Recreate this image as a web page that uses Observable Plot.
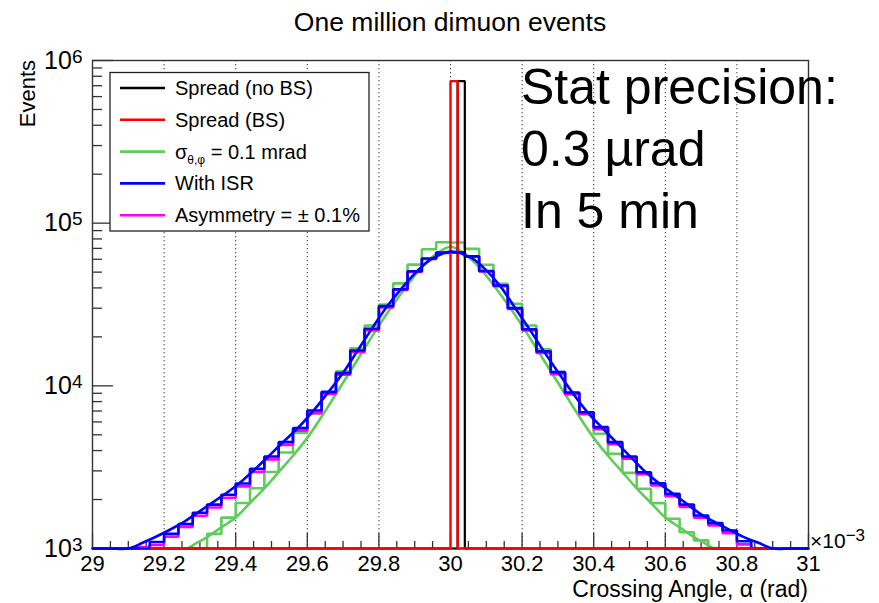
<!DOCTYPE html>
<html>
<head>
<meta charset="utf-8">
<script src="https://cdn.jsdelivr.net/npm/d3@7"></script>
<script src="https://cdn.jsdelivr.net/npm/@observablehq/plot@0.6"></script>
<style>
  html, body { margin: 0; padding: 0; background: #fff; }
  #chart { position: relative; width: 879px; height: 603px; }
</style>
</head>
<body>
<div id="chart"></div>
<script>
// Crossing-angle histograms: 50 bins of 0.04 mrad between 29 and 31 mrad
const binEdges = d3.range(51).map(i => +(29 + 0.04 * i).toFixed(2));

// With ISR (blue)
const withISR = [
  794, 851, 912, 977, 1096, 1230, 1413, 1660, 1862, 2138,
  2512, 3090, 3681, 4508, 5495, 7047, 9183, 11967, 16482, 22439,
  30903, 39264, 50582, 60674, 66069, 66222, 62517, 50816, 41400, 30061,
  22284, 16293, 12134, 9078, 6887, 5572, 4508, 3681, 2944, 2518,
  2168, 1862, 1596, 1432, 1291, 1109, 955, 891, 832, 776
];

// Asymmetry = ±0.1% (magenta)
const asymmetry = [
  780, 840, 905, 1020, 1050, 1180, 1355, 1590, 1785, 2050,
  2410, 2960, 3530, 4330, 5300, 6800, 8900, 11700, 16100, 21900,
  30300, 38800, 50100, 60200, 65700, 65900, 62100, 50400, 41000, 29700,
  21900, 15900, 11800, 8850, 6700, 5420, 4380, 3570, 2860, 2440,
  2100, 1800, 1545, 1385, 1240, 1060, 985, 880, 820, 765
];

// sigma(theta,phi) = 0.1 mrad (green)
const sigmaSmear = [
  200, 260, 330, 420, 530, 660, 800, 955, 1230, 1549,
  1905, 2344, 2951, 3890, 5129, 6761, 9120, 12303, 16982, 23442,
  31623, 42658, 55590, 69183, 76384, 76100, 69503, 55463, 42364, 31915,
  23496, 16788, 12134, 9016, 6730, 5070, 3819, 2917, 2328, 1901,
  1524, 1259, 1122, 933, 790, 640, 510, 400, 310, 240
];

// Beam-spread histograms (finer binning around 30 mrad)
const spreadEdges = [29.16, 30.00, 30.02, 30.04, 31.0];
const spreadNoBS = [0, 0, 747000, 0];
const spreadBS = [0, 747000, 0, 0];

// Fitted curves: sampled abscissae (mrad) and values
const sigmaFitX = [29.265, 29.28, 29.32, 29.36, 29.40, 29.44, 29.48, 29.52, 29.56, 29.60,
  29.64, 29.68, 29.72, 29.76, 29.80, 29.84, 29.88, 29.92, 29.96, 30.00,
  30.04, 30.08, 30.12, 30.16, 30.20, 30.24, 30.28, 30.32, 30.36, 30.40,
  30.44, 30.48, 30.52, 30.56, 30.60, 30.64, 30.68, 30.72, 30.735];
const sigmaFitY = [1000, 1047, 1175, 1349, 1549, 1905, 2344, 2951, 3715, 4786,
  6457, 8913, 12303, 16982, 23442, 31623, 41687, 53703, 64565, 71614,
  64565, 53703, 41687, 31623, 23442, 16982, 12303, 8913, 6457, 4786,
  3715, 2951, 2344, 1905, 1549, 1349, 1175, 1047, 1000];

const isrFitX = [29.00, 29.05, 29.10, 29.14, 29.18, 29.22, 29.26, 29.30, 29.34, 29.38,
  29.42, 29.46, 29.50, 29.54, 29.58, 29.62, 29.66, 29.70, 29.74, 29.78,
  29.82, 29.86, 29.90, 29.94, 29.98, 30.00, 30.02, 30.06, 30.10, 30.14,
  30.18, 30.22, 30.26, 30.30, 30.34, 30.38, 30.42, 30.46, 30.50, 30.54,
  30.58, 30.62, 30.66, 30.70, 30.74, 30.78, 30.82, 30.86, 30.90, 30.95, 31.00];
const isrFitY = [813, 902, 1000, 1084, 1189, 1318, 1479, 1698, 1950, 2239,
  2630, 3162, 3846, 4677, 5689, 7161, 9226, 12023, 16406, 22387,
  30200, 38905, 48978, 58884, 65313, 66988, 66069, 60954, 51286, 40738,
  30200, 22387, 16406, 12162, 9120, 6998, 5623, 4571, 3715, 3020,
  2541, 2188, 1884, 1622, 1445, 1303, 1175, 1084, 1000, 902, 813];

// Axis ticks and labels
const xTicks = [29, 29.2, 29.4, 29.6, 29.8, 30, 30.2, 30.4, 30.6, 30.8, 31];
const xTickLabels = ["29", "29.2", "29.4", "29.6", "29.8", "30", "30.2", "30.4", "30.6", "30.8", "31"];
const yTicks = [1e3, 1e4, 1e5, 1e6];
const yTickExponents = ["3", "4", "5", "6"];

// Legend
const legendLabels = ["Spread (no BS)", "Spread (BS)", "SIGMA", "With ISR", "Asymmetry = \u00b1 0.1%"];
const legendColors = ["#000000", "#ff0000", "#5fcc5a", "#0000ff", "#ff00ff"];

const W = 879, H = 603, ML = 92, MR = 71, MT = 60, MB = 55;
const frameW = W - ML - MR, frameH = H - MT - MB;
const FONT = "'Liberation Sans', Arial, Helvetica, sans-serif";

function stepPoints(edges, counts) {
  const pts = [];
  counts.forEach((c, i) => {
    pts.push({x: edges[i], n: c}, {x: edges[i + 1], n: c});
  });
  return pts;
}
const yOf = d => Math.max(d.n, 1);

const minorX = d3.range(0, 41).map(i => +(29 + 0.05 * i).toFixed(2)).filter(v => !xTicks.includes(v));
const minorY = [];
[1e3, 1e4, 1e5].forEach(dec => { for (let m = 2; m <= 9; m++) minorY.push(m * dec); });
const gridTicks = xTicks.slice(1, -1);

const histStyle = {x: "x", y: yOf, strokeWidth: 2.6, strokeLinejoin: "miter", strokeLinecap: "butt"};

const svg = Plot.plot({
  width: W, height: H,
  marginLeft: ML, marginRight: MR, marginTop: MT, marginBottom: MB,
  style: {fontFamily: FONT, fontSize: "22px", background: "#fff", color: "#000"},
  x: {domain: [29, 31]},
  y: {type: "log", domain: [1e3, 1e6], clamp: true},
  marks: [
    Plot.ruleX(gridTicks, {stroke: "#333", strokeWidth: 1, strokeDasharray: "1.3,2.7"}),
    Plot.frame({stroke: "#333", strokeWidth: 1.4}),
    Plot.ruleX(xTicks, {stroke: "#333", strokeWidth: 1.3, insetTop: frameH - 15}),
    Plot.ruleX(minorX, {stroke: "#333", strokeWidth: 1.3, insetTop: frameH - 7}),
    Plot.ruleY(yTicks, {stroke: "#333", strokeWidth: 1.3, insetRight: frameW - 21}),
    Plot.ruleY(minorY, {stroke: "#333", strokeWidth: 1.3, insetRight: frameW - 10}),
    Plot.axisX({ticks: xTicks, tickFormat: d => xTickLabels[xTicks.indexOf(d)], tickSize: 0, tickPadding: 7, fontSize: 22, label: null}),
    Plot.axisY({ticks: yTicks, tickFormat: d => yTickExponents[yTicks.indexOf(d)], tickSize: 0, tickPadding: 10, fontSize: 25, label: null}),
    Plot.line(stepPoints(binEdges, sigmaSmear), {...histStyle, stroke: "#5fcc5a"}),
    Plot.line(sigmaFitX.map((x, i) => ({x, n: sigmaFitY[i]})), {x: "x", y: yOf, stroke: "#5fcc5a", strokeWidth: 2.6, curve: "catmull-rom"}),
    Plot.line(stepPoints(binEdges, asymmetry), {...histStyle, stroke: "#ff00ff"}),
    Plot.line(stepPoints(binEdges, withISR), {...histStyle, stroke: "#0000ff"}),
    Plot.line(stepPoints(spreadEdges, spreadNoBS), {...histStyle, stroke: "#000", strokeWidth: 2.2}),
    Plot.line(stepPoints(spreadEdges, spreadBS), {...histStyle, stroke: "#ff0000", strokeWidth: 2.4}),
    Plot.line(isrFitX.map((x, i) => ({x, n: isrFitY[i]})), {x: "x", y: yOf, stroke: "#0000ff", strokeWidth: 2.6, curve: "catmull-rom"})
  ]
});

const root = d3.select(svg);

// Powers of ten on the y axis
root.selectAll('g[aria-label="y-axis tick label"] text').each(function () {
  const t = d3.select(this);
  const e = t.text();
  t.text("10");
  t.append("tspan").attr("dy", -6).attr("font-size", 19).text(e);
});

const ann = root.append("g").attr("font-family", FONT).attr("fill", "#000").attr("text-anchor", "start");

// Title
ann.append("text").attr("x", 450).attr("y", 31).attr("text-anchor", "middle")
  .attr("font-size", 26.5).text("One million dimuon events");

// Axis titles
ann.append("text").attr("x", ML + frameW).attr("y", 597).attr("text-anchor", "end")
  .attr("font-size", 23).text("Crossing Angle, \u03b1 (rad)");
ann.append("text").attr("transform", `translate(35,${MT}) rotate(-90)`).attr("text-anchor", "end")
  .attr("font-size", 22).text("Events");
const mult = ann.append("text").attr("x", 810).attr("y", 548).attr("font-size", 21);
mult.append("tspan").text("\u00d710");
mult.append("tspan").attr("dy", -7).attr("font-size", 17).text("\u22123");

// Large annotation
["Stat precision:", "0.3 \u00b5rad", "In 5 min"].forEach((s, i) => {
  ann.append("text").attr("x", 521).attr("y", 104 + 62 * i).attr("font-size", 50).text(s);
});

// Legend box
const lg = ann.append("g");
lg.append("rect").attr("x", 110).attr("y", 72.5).attr("width", 259).attr("height", 158.5)
  .attr("fill", "#fff").attr("stroke", "#222").attr("stroke-width", 1.3);
legendLabels.forEach((lab, i) => {
  const cy = 88 + 31.8 * i;
  lg.append("line").attr("x1", 120).attr("x2", 165).attr("y1", cy).attr("y2", cy)
    .attr("stroke", legendColors[i]).attr("stroke-width", 2.6);
  const t = lg.append("text").attr("x", 175).attr("y", cy + 7).attr("font-size", 20);
  if (lab === "SIGMA") {
    t.append("tspan").text("\u03c3");
    t.append("tspan").attr("dy", 5).attr("font-size", 12).text("\u03b8,\u03c6");
    t.append("tspan").attr("dy", -5).attr("font-size", 20).text(" = 0.1 mrad");
  } else {
    t.text(lab);
  }
});

document.getElementById("chart").appendChild(svg);
</script>
</body>
</html>
